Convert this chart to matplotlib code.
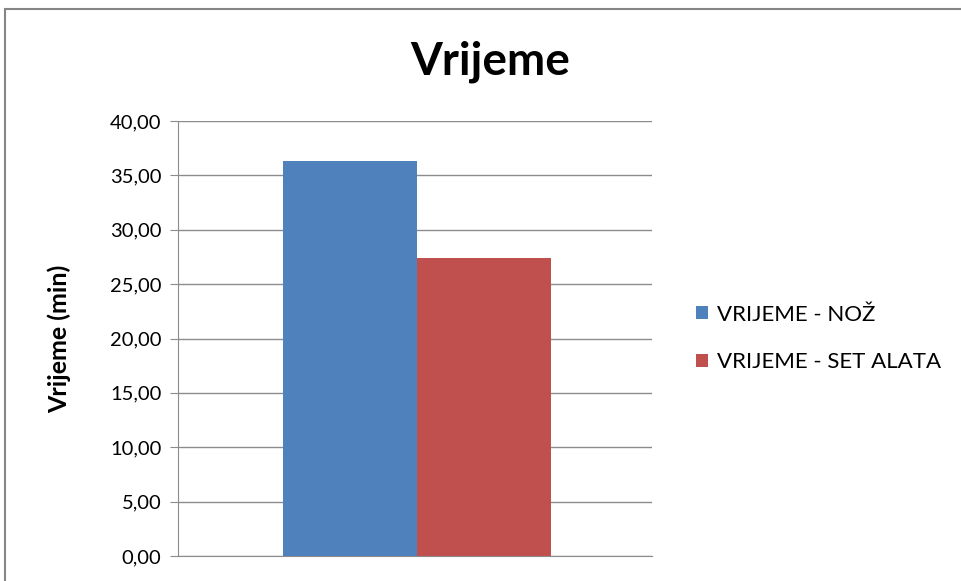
import matplotlib
matplotlib.use('Agg')
import matplotlib.pyplot as plt
from matplotlib.patches import Rectangle
from matplotlib.ticker import FuncFormatter

# Data
series_names = ['VRIJEME - NOŽ', 'VRIJEME - SET ALATA']
series_values = [36.35, 27.4]
colors = ['#4f81bd', '#c0504d']
yticks = [0, 5, 10, 15, 20, 25, 30, 35, 40]

plt.rcParams['font.family'] = ['Lato', 'DejaVu Sans']

fig = plt.figure(figsize=(9.61, 5.81), dpi=100)
ax = fig.add_axes([178 / 961, 25 / 581, 474 / 961, 435 / 581])

# outer chart border (cut off at right and bottom like the original)
fig.patches.append(Rectangle((5 / 961, -0.1), 1.1, (581 - 8.5) / 581 + 0.1,
                             transform=fig.transFigure, fill=False,
                             edgecolor='#868686', linewidth=1.5))

width = 0.283
offsets = [-width / 2, width / 2]
for name, val, col, off in zip(series_names, series_values, colors, offsets):
    ax.bar(0 + off, val, width=width, color=col, label=name, zorder=3)

ax.set_xlim(-0.504, 0.496)
ax.set_ylim(0, 40)
ax.set_yticks(yticks)
ax.yaxis.set_major_formatter(FuncFormatter(lambda v, p: f'{v:.2f}'.replace('.', ',')))
ax.set_xticks([])
ax.grid(axis='y', color='#8c8c8c', linewidth=1, zorder=0)
for s in ['top', 'right']:
    ax.spines[s].set_visible(False)
ax.spines['left'].set_color('#8c8c8c')
ax.spines['bottom'].set_color('#8c8c8c')
ax.tick_params(axis='y', direction='out', length=6, color='#8c8c8c',
               labelsize=14.5, pad=6)

ax.set_ylabel('Vrijeme (min)', fontsize=18, fontweight='bold', labelpad=28)
fig.text(490 / 961, 1 - 62 / 581, 'Vrijeme', ha='center', va='center',
         fontsize=33, fontweight='bold')

leg = ax.legend(loc='center left', bbox_to_anchor=(1.05, 0.5), frameon=False,
                fontsize=16, handlelength=0.55, handleheight=0.55,
                handletextpad=0.4, labelspacing=1.25)

fig.savefig('out.png', dpi=100)
